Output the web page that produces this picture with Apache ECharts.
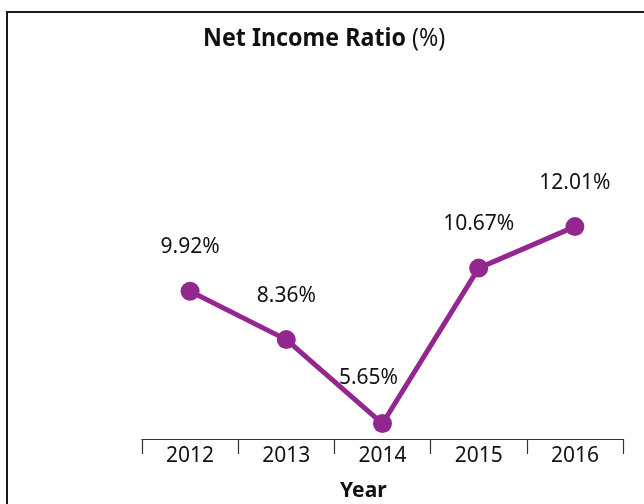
<!DOCTYPE html>
<html>
<head>
<meta charset="utf-8">
<script src="https://cdn.jsdelivr.net/npm/echarts@6/dist/echarts.min.js"></script>
<style>
  html, body { margin: 0; padding: 0; background: #fff; }
  #chart { width: 644px; height: 504px; }
</style>
</head>
<body>
<div id="chart"></div>
<script>
// Net income ratio by year (%)
const years = ['2012', '2013', '2014', '2015', '2016'];
const netIncomeRatio = [9.92, 8.36, 5.65, 10.67, 12.01];

const FONT = '"Noto Sans", "Open Sans", sans-serif';
const PURPLE = '#93278f';

const chart = echarts.init(document.getElementById('chart'), null, { renderer: 'canvas' });

chart.setOption({
  animation: false,
  backgroundColor: '#fff',
  title: [
    {
      text: 'Year',
      left: 335, top: 476,
      textStyle: { fontFamily: FONT, fontWeight: 'bold', fontSize: 21, color: '#111' }
    }
  ],
  graphic: [
    {
      type: 'rect', silent: true, z: -1,
      shape: { x: 7, y: 12, width: 700, height: 600 },
      style: { fill: 'none', stroke: '#1a1a1a', lineWidth: 2 }
    },
    {
      // chart heading, slightly condensed
      type: 'text', silent: true,
      x: 203, y: 26, scaleX: 0.93,
      style: {
        text: '{b|Net Income Ratio}{r| (%)}',
        rich: {
          b: { fontFamily: FONT, fontWeight: 'bold', fontSize: 25, fill: '#111' },
          r: { fontFamily: FONT, fontWeight: 'normal', fontSize: 25, fill: '#111' }
        }
      }
    }
  ],
  grid: { left: 142, right: 21, top: 165, bottom: 504 - 439 },
  xAxis: {
    type: 'category',
    data: years,
    boundaryGap: true,
    axisLine: { lineStyle: { color: '#333', width: 1.2 } },
    axisTick: { show: true, length: 15, lineStyle: { color: '#333', width: 1.2 } },
    axisLabel: { fontFamily: FONT, fontSize: 21, color: '#111', margin: 7 }
  },
  yAxis: {
    type: 'value',
    min: 5.15, max: 14,
    show: false,
    splitLine: { show: false }
  },
  series: [{
    type: 'line',
    data: netIncomeRatio.map((v, i) => i === 2
      ? { value: v, label: { offset: [-14, -2] } }
      : v),
    symbol: 'circle',
    symbolSize: 19,
    lineStyle: { color: PURPLE, width: 5 },
    itemStyle: { color: PURPLE },
    label: {
      show: true,
      position: 'top',
      distance: 24,
      fontFamily: FONT,
      fontSize: 21,
      color: '#111',
      formatter: p => p.value.toFixed(2) + '%'
    }
  }]
});
</script>
</body>
</html>
